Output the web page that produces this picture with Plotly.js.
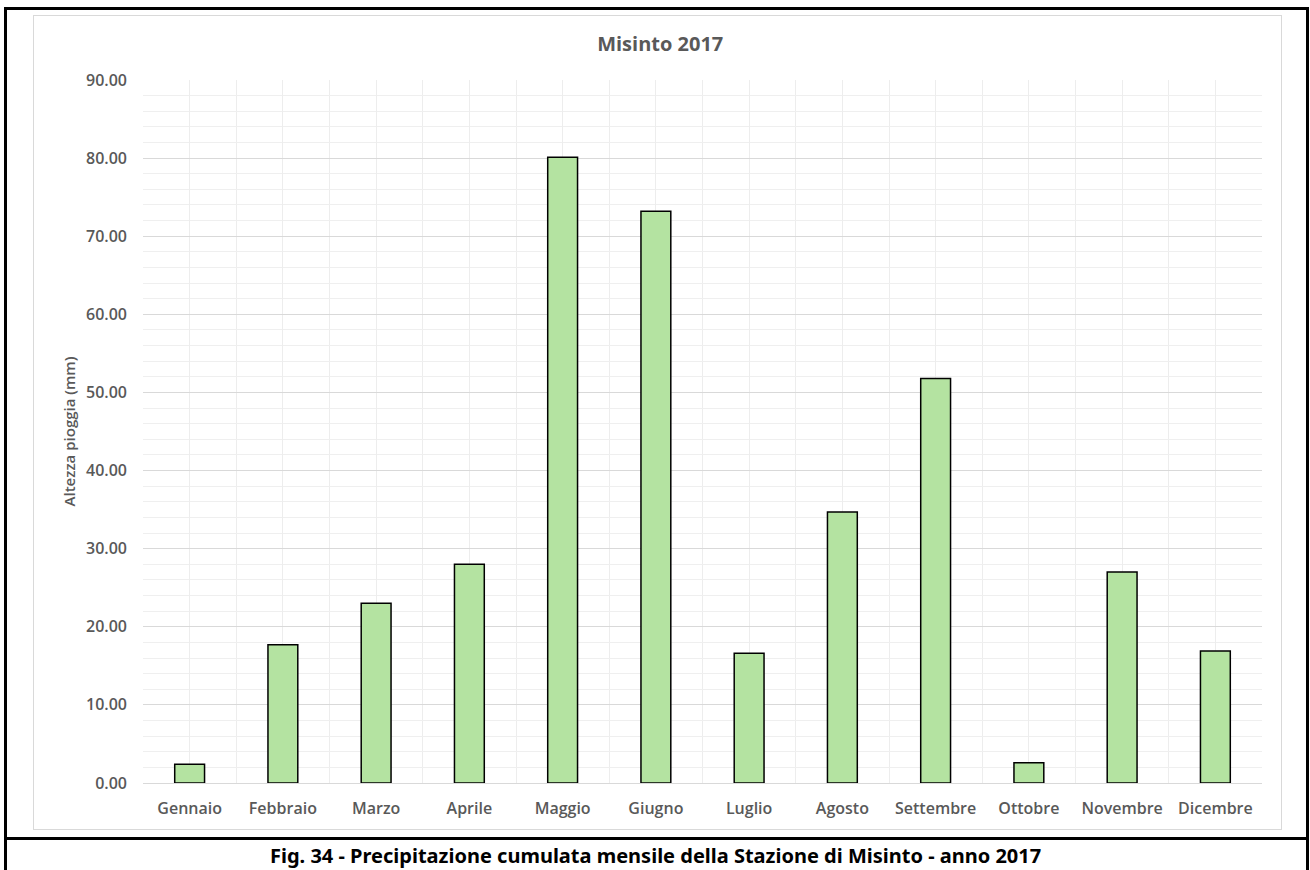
<!DOCTYPE html>
<html>
<head>
<meta charset="utf-8">
<script src="https://cdn.plot.ly/plotly-3.0.1.min.js"></script>
<style>
  html, body { margin: 0; padding: 0; background: #ffffff; width: 1310px; height: 870px; overflow: hidden; }
  #outer { position: absolute; left: 4px; top: 7px; width: 1305px; height: 875px; border: 3px solid #000; box-sizing: border-box; }
  #sep { position: absolute; left: 4px; top: 837px; width: 1305px; height: 3px; background: #000; }
  #box { position: absolute; left: 33px; top: 15px; width: 1249px; height: 815px; border: 1px solid #d9d9d9; box-sizing: border-box; }
  #chart { position: absolute; left: 0; top: 0; width: 1310px; height: 870px; }
</style>
</head>
<body>
<div id="outer"></div>
<div id="sep"></div>
<div id="box"></div>
<div id="chart"></div>
<script>
const months = ["Gennaio", "Febbraio", "Marzo", "Aprile", "Maggio", "Giugno", "Luglio", "Agosto", "Settembre", "Ottobre", "Novembre", "Dicembre"];
const rainfall = [2.4, 17.7, 23.0, 28.0, 80.1, 73.2, 16.6, 34.7, 51.8, 2.6, 27.0, 16.9];
const chartTitle = "Misinto 2017";
const yTitle = "Altezza pioggia (mm)";
const caption = "Fig. 34 - Precipitazione cumulata mensile della Stazione di Misinto - anno 2017";

const xIndex = months.map((m, i) => i);
const gray = "#595959";

const trace = {
  type: "bar",
  x: xIndex,
  y: rainfall,
  width: 0.32,
  marker: { color: "#b4e3a1", line: { color: "#000000", width: 1.5 } },
  hoverinfo: "x+y"
};

const layout = {
  width: 1310,
  height: 870,
  margin: { l: 143, r: 48, t: 80, b: 86.5, pad: 0 },
  paper_bgcolor: "rgba(0,0,0,0)",
  plot_bgcolor: "rgba(0,0,0,0)",
  showlegend: false,
  font: { family: "Open Sans, sans-serif", color: gray },
  title: {
    text: chartTitle,
    font: { family: "Open Sans, sans-serif", size: 20, color: gray, weight: 700 },
    xref: "container", x: 0.504, xanchor: "center",
    yref: "container", y: 1 - 44 / 870, yanchor: "middle"
  },
  xaxis: {
    range: [-0.5, 11.5],
    tickvals: xIndex,
    ticktext: months,
    tickfont: { family: "Open Sans, sans-serif", size: 16, color: gray, weight: 600 },
    ticks: "",
    ticklabelstandoff: 14,
    showgrid: true,
    gridcolor: "#ededed",
    gridwidth: 1,
    minor: { dtick: 0.5, tick0: 0.5, showgrid: true, gridcolor: "#ededed", gridwidth: 1, ticks: "" },
    zeroline: false,
    showline: false,
    fixedrange: true
  },
  yaxis: {
    range: [0, 90],
    dtick: 10,
    tick0: 0,
    tickformat: ".2f",
    tickfont: { family: "Open Sans, sans-serif", size: 16, color: gray, weight: 600 },
    ticks: "",
    ticklabelstandoff: 15,
    showgrid: true,
    gridcolor: "#d9d9d9",
    gridwidth: 1,
    minor: { dtick: 2, showgrid: true, gridcolor: "#efefef", gridwidth: 1, ticks: "" },
    zeroline: true,
    zerolinecolor: "#d9d9d9",
    zerolinewidth: 1,
    showline: false,
    title: {
      text: yTitle,
      standoff: 6,
      font: { family: "Open Sans, sans-serif", size: 15, color: gray, weight: 600 }
    },
    fixedrange: true
  },
  annotations: [{
    text: caption,
    xref: "paper", x: (655 - 143) / 1119, xanchor: "center",
    yref: "paper", y: (783.5 - 856) / 703.5, yanchor: "middle",
    showarrow: false,
    font: { family: "Noto Sans, sans-serif", size: 20, color: "#000000", weight: 700 }
  }],
  bargap: 0.68
};

Plotly.newPlot("chart", [trace], layout, { displayModeBar: false, staticPlot: true });
</script>
</body>
</html>
